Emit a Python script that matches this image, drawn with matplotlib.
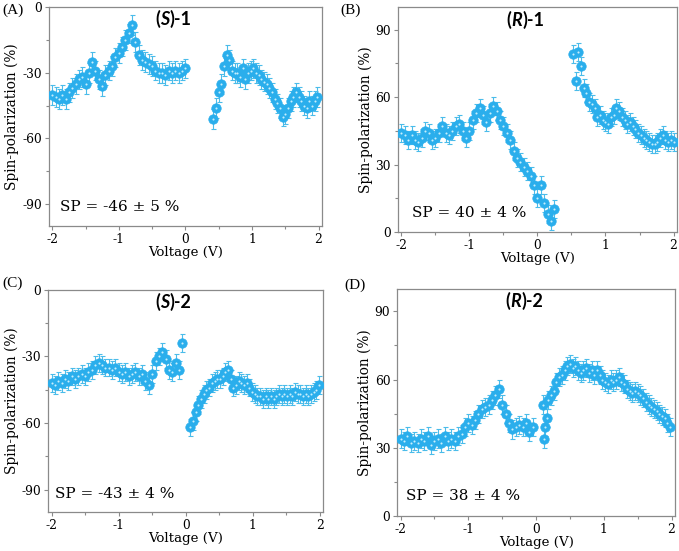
import numpy as np
import matplotlib
matplotlib.use("Agg")
import matplotlib.pyplot as plt
from matplotlib.ticker import MultipleLocator

# ---------------- data ----------------
# (S)-1
A_left_v = np.round(np.arange(-2.0, 0.001, 0.05), 3)
A_left_sp = [-40, -41, -42, -40, -42, -39, -37, -35, -33, -32, -35, -30, -25, -29, -33,
             -36, -31, -29, -27, -23, -21, -18, -15, -12, -8, -16, -22, -24, -25, -26,
             -27, -29, -30, -30, -31, -29, -30, -29, -30, -29, -28]
A_right_v = np.round(np.arange(0.42, 1.99, 0.04), 3)
A_right_sp = [-51, -46, -39, -35, -27, -22, -24, -29, -30, -30, -32, -28, -33, -30, -29,
              -28, -30, -31, -33, -34, -35, -37, -39, -42, -44, -46, -50, -49, -46, -43,
              -41, -39, -41, -43, -45, -46, -43, -45, -43, -41]
A_err = 4.5

# (R)-1
B_left_v = np.round(np.arange(-2.0, 0.251, 0.05), 3)
B_left_sp = [44, 43, 41, 43, 41, 40, 42, 45, 44, 41, 42, 44, 47, 44, 43, 45, 47, 48, 45,
             42, 45, 50, 53, 55, 52, 49, 53, 56, 54, 50, 47, 44, 41, 36, 33, 31, 29, 27,
             25, 21, 15, 21, 13, 8, 5, 10]
B_right_v = np.round(np.arange(0.52, 2.001, 0.04), 3)
B_right_sp = [79, 67, 80, 74, 64, 62, 58, 57, 55, 51, 52, 50, 49, 48, 51, 52, 55, 54, 51,
              50, 48, 49, 47, 46, 44, 43, 42, 41, 40, 39, 39, 40, 42, 43, 41, 40, 41, 40]
B_err = 4.0

# (S)-2
C_left_v = np.round(np.arange(-2.0, -0.049, 0.05), 3)
C_left_sp = [-42, -43, -41, -42, -40, -41, -39, -40, -39, -38, -39, -37, -36, -34, -33,
             -34, -35, -35, -36, -35, -37, -38, -37, -39, -38, -37, -39, -38, -41, -43,
             -38, -32, -30, -28, -31, -36, -37, -33, -36, -24]
C_right_v = np.round(np.arange(0.07, 2.0, 0.04), 3)
C_right_sp = [-62, -59, -55, -52, -49, -47, -45, -44, -42, -41, -40, -40, -39, -37, -36,
              -40, -44, -43, -41, -42, -43, -42, -44, -46, -47, -48, -48, -49, -48, -49,
              -48, -49, -48, -47, -48, -47, -48, -47, -48, -46, -47, -47, -48, -47, -48,
              -47, -46, -45, -43]
C_err = 4.0

# (R)-2
D_left_v = np.round(np.arange(-2.0, -0.049, 0.05), 3)
D_left_sp = [34, 33, 35, 32, 33, 32, 34, 33, 35, 31, 33, 34, 32, 35, 33, 34, 33, 35, 36,
             39, 41, 40, 42, 45, 47, 48, 49, 51, 53, 56, 49, 45, 41, 38, 39, 40, 39, 41,
             37, 39]
D_start_v = [0.10, 0.12, 0.13, 0.16, 0.18]
D_start_sp = [49, 34, 39, 43, 51]
D_right_v = np.round(np.arange(0.22, 1.99, 0.04), 3)
D_right_sp = [53, 55, 59, 61, 62, 64, 66, 67, 65, 66, 64, 63, 64, 65, 63, 64, 62, 64, 62,
              60, 59, 58, 60, 59, 60, 61, 59, 58, 56, 55, 54, 55, 54, 53, 52, 50, 49, 48,
              47, 46, 45, 44, 43, 41, 39]
D_err = 4.0

panel_letters = ["(A)", "(B)", "(C)", "(D)"]
sp_texts = ["SP = -46 \u00b1 5 %", "SP = 40 \u00b1 4 %", "SP = -43 \u00b1 4 %", "SP = 38 \u00b1 4 %"]
titles = [("S", "1"), ("R", "1"), ("S", "2"), ("R", "2")]

# ---------------- style ----------------
SERIF = "DejaVu Serif"
MFC = "#2AAEEC"
MEC = "#2AAEEC"
ECOL = "#4BBCEA"
SPINE = "#8a8a8a"

fig = plt.figure(figsize=(6.79, 5.51), dpi=100)

positions = [
    [0.072, 0.590, 0.402, 0.397],
    [0.586, 0.579, 0.411, 0.408],
    [0.071, 0.071, 0.405, 0.403],
    [0.585, 0.064, 0.409, 0.412],
]

series = [
    [(A_left_v, A_left_sp), (A_right_v, A_right_sp)],
    [(B_left_v, B_left_sp), (B_right_v, B_right_sp)],
    [(C_left_v, C_left_sp), (C_right_v, C_right_sp)],
    [(D_left_v, D_left_sp), (D_start_v, D_start_sp), (D_right_v, D_right_sp)],
]
errs = [A_err, B_err, C_err, D_err]
ylims = [(-100, 0), (0, 100), (-100, 0), (0, 100)]
yticks = [[-90, -60, -30, 0], [0, 30, 60, 90], [-90, -60, -30, 0], [0, 30, 60, 90]]
sp_pos = [(0.04, 0.07), (0.05, 0.067), (0.025, 0.063), (0.03, 0.07)]
letter_pos = [(0.004, 0.994), (0.502, 0.994), (0.004, 0.499), (0.507, 0.494)]

for i in range(4):
    ax = fig.add_axes(positions[i])
    for v, sp in series[i]:
        v = np.asarray(v, dtype=float)
        sp = np.asarray(sp, dtype=float)
        ax.errorbar(v, sp, yerr=errs[i], fmt="none", ecolor=ECOL, elinewidth=0.8,
                    capsize=1.8, capthick=0.8, zorder=2)
        ax.plot(v, sp, "o", ms=6.8, mfc=MFC, mec=MEC, mew=0.5, zorder=3)
        ax.plot(v, sp, "o", ms=1.5, mfc="#c8eefc", mec="none", zorder=4)
    ax.set_xlim(-2.05, 2.05)
    ax.set_ylim(*ylims[i])
    ax.set_xticks([-2, -1, 0, 1, 2])
    ax.set_xticklabels(["-2", "-1", "0", "1", "2"])
    ax.set_yticks(yticks[i])
    ax.set_yticklabels([str(t) for t in yticks[i]])
    ax.xaxis.set_minor_locator(MultipleLocator(0.5))
    ax.yaxis.set_minor_locator(MultipleLocator(15))
    ax.tick_params(which="both", direction="out", color=SPINE, width=0.8,
                   labelsize=8.8, pad=2)
    ax.tick_params(which="major", length=3)
    ax.tick_params(which="minor", length=2)
    for lab in ax.get_xticklabels() + ax.get_yticklabels():
        lab.set_fontfamily(SERIF)
    for s in ax.spines.values():
        s.set_color(SPINE)
        s.set_linewidth(0.9)
    ax.set_xlabel("Voltage (V)", fontfamily=SERIF, fontsize=9.6, labelpad=0)
    ax.set_ylabel("Spin-polarization (%)", fontfamily=SERIF, fontsize=9.8, labelpad=2)
    ax.text(sp_pos[i][0], sp_pos[i][1], sp_texts[i], transform=ax.transAxes,
            fontfamily=SERIF, fontsize=11, ha="left", va="baseline")
    # title "(S)-1" with italic letter
    letter, num = titles[i]
    t1 = ax.text(0.39, 0.945, "(", transform=ax.transAxes, fontfamily="Lato",
                 fontweight="bold", fontsize=13, ha="left", va="center")
    t2 = ax.annotate(letter, xy=(1, 0), xycoords=t1, va="bottom", ha="left",
                     fontfamily="Lato", fontweight="bold", fontstyle="italic", fontsize=13)
    ax.annotate(")-" + num, xy=(1, 0), xycoords=t2, va="bottom", ha="left",
                fontfamily="Lato", fontweight="bold", fontsize=13)
    fig.text(letter_pos[i][0], letter_pos[i][1], panel_letters[i],
             fontfamily="Liberation Serif", fontsize=11, ha="left", va="top")

fig.savefig("out.png", dpi=100)
